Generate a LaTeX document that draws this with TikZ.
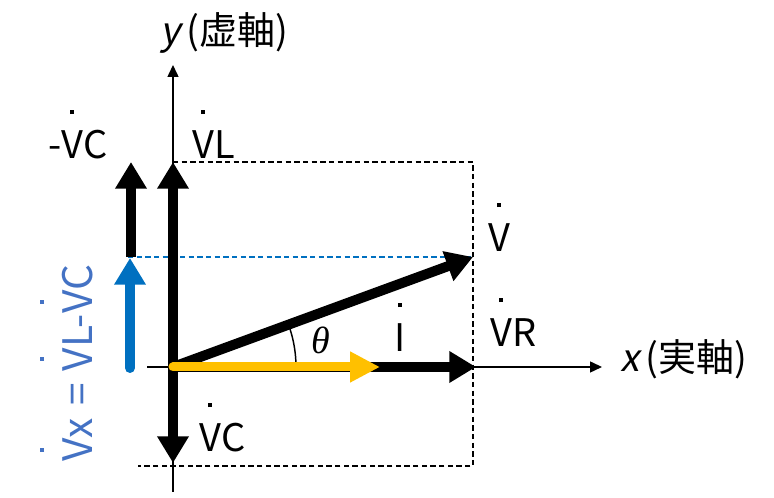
\documentclass[tikz,border=0pt]{standalone}
\usepackage{fontspec}
\setmainfont{Noto Sans CJK JP}
\newfontfamily\slfont{Noto Sans CJK JP}[FakeSlant=0.2]
\newfontfamily\thfont{Liberation Serif}
\usetikzlibrary{arrows.meta,calc}
\newcommand\dt[1]{\ooalign{#1\cr\hidewidth\raisebox{1.18em}{\rule{3pt}{3pt}}\hidewidth\cr}}
\definecolor{vyellow}{HTML}{FFC000}
\definecolor{vblue}{HTML}{0070C0}
\definecolor{tblue}{HTML}{4472C4}
\begin{document}
\begin{tikzpicture}[x=0.75pt,y=0.75pt,
  lbl/.style={inner sep=0pt, font=\fontsize{28.5}{34}\selectfont},
  vecarrow/.style={line width=7.5pt, -{Triangle[length=20pt,width=22.5pt]}},
  axisline/.style={line width=1.1pt, -{Triangle[length=9pt,width=8.25pt]}},
  guide/.style={line width=1.1pt, dash pattern=on 4pt off 2.5pt}]
\useasboundingbox (0,0) rectangle (774,498);
% coordinates
\coordinate (O) at (173,131);
\coordinate (yb) at (173,6);
\coordinate (yt) at (173,433);
\coordinate (xl) at (147,131);
\coordinate (xr) at (602,131);
\coordinate (VLt) at (173,336);
\coordinate (VCt) at (173,35);
\coordinate (VRt) at (476,131);
\coordinate (Vt) at (473,241);
\coordinate (It) at (380,131);
\coordinate (Ct) at (473,336);
\coordinate (Cb) at (473,32);
\coordinate (Bl) at (138,32);
\coordinate (mb) at (131,241);
\coordinate (mt) at (131,336);
\coordinate (bb) at (130,130);
\coordinate (bt) at (130,240);
\coordinate (bl) at (128,241);
\coordinate (arcs) at (296,131);
% axes
\draw[axisline] (yb) -- (yt);
\draw[axisline] (xl) -- (xr);
% guides
\draw[guide] (VLt) -- (Ct) -- (Cb) -- (Bl);
\draw[guide, vblue] (bl) -- (Vt);
% angle arc
\draw[line width=1.1pt] (arcs) arc[start angle=0, end angle=18, radius=123];
% vectors
\draw[vecarrow] (O) -- (VRt);
\draw[vecarrow] (O) -- (Vt);
\draw[vecarrow] (O) -- (VLt);
\draw[vecarrow] (O) -- (VCt);
\draw[vecarrow] (mb) -- (mt);
\draw[vecarrow, vblue, line cap=round] (bb) -- (bt);
\draw[line width=6.75pt, vyellow, line cap=round, -{Triangle[length=22.5pt,width=21.75pt]}] (O) -- (It);
% labels
\node[lbl, anchor=base west] (lmvc) at (48,339) {-\dt{V}C};
\node[lbl, anchor=base west] (lvl) at (192,339) {\dt{V}L};
\node[lbl, anchor=base west] (lv) at (488,246) {\dt{V}};
\node[lbl, anchor=base west] (lvr) at (490,151) {\dt{V}R};
\node[lbl, anchor=base] (li) at (400,146) {\dt{I}};
\node[lbl, anchor=base west] (lvc) at (199,46) {\dt{V}C};
\node[lbl, anchor=center] (lth) at (321,158) {\thfont\itshape θ};
\node[lbl, anchor=base west] (ly) at (160,453) {{\slfont y}\,(虚軸)};
\node[lbl, anchor=base west] (lx) at (620,126) {{\slfont x}\,(実軸)};
\node[lbl, font=\fontsize{30.5}{36}\selectfont, anchor=base west, rotate=90, text=tblue] (lvx) at (92,36) {\dt{V}x\hspace{0.3em}=\hspace{0.3em}\dt{V}L-\dt{V}C};
\end{tikzpicture}
\end{document}
